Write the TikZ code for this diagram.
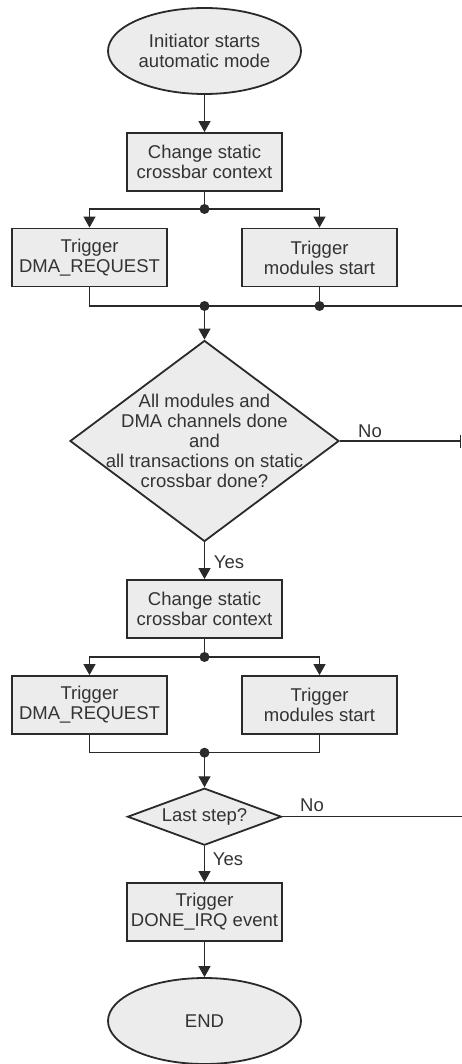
\documentclass[tikz,border=0pt]{standalone}
\usepackage{fontspec}
\setmainfont{Liberation Sans}
\usetikzlibrary{shapes.geometric,arrows.meta}
\definecolor{shapefill}{HTML}{ECECEC}
\definecolor{ink}{HTML}{2A2A2A}
\definecolor{txtcol}{HTML}{333333}
\tikzset{
  base/.style={draw=ink, line width=1.8pt, fill=shapefill, text=txtcol, inner sep=0pt,
    font=\fontsize{18.5pt}{20pt}\selectfont, align=center},
  procbox/.style={base, rectangle, minimum width=155pt, minimum height=58pt},
  termnode/.style={base, ellipse, minimum width=193pt, minimum height=86pt},
  decnode/.style={base, diamond},
  dectext/.style={text=txtcol, inner sep=0pt, font=\fontsize{18.5pt}{20pt}\selectfont, align=center},
  lbl/.style={text=txtcol, inner sep=0pt, font=\fontsize{18.5pt}{20pt}\selectfont},
  conn/.style={draw=ink, line width=1.3pt},
  arr/.style={conn, -{Triangle[length=11pt,width=12pt]}},
  dot/.style={circle, fill=ink, inner sep=0pt, minimum size=10pt},
}
\begin{document}
\begin{tikzpicture}[x=1pt,y=-1pt]
\useasboundingbox (0,0) rectangle (462,1064);

% nodes
\node[termnode] (start) at (204.5,51) {Initiator starts\\automatic mode};
\node[procbox] (ctx1) at (204.5,162) {Change static\\crossbar context};
\node[procbox] (dma1) at (89.5,257.5) {Trigger\\DMA\_REQUEST};
\node[procbox] (mod1) at (319.5,257.5) {Trigger\\modules start};
\node[decnode, minimum width=269pt, minimum height=201pt] (dec1) at (204.5,441) {};
\node[dectext] (dec1t) at (204.5,441) {All modules and\\DMA channels done\\and\\all transactions on static\\crossbar done?};
\node[procbox] (ctx2) at (204.5,609) {Change static\\crossbar context};
\node[procbox] (dma2) at (89.5,705) {Trigger\\DMA\_REQUEST};
\node[procbox] (mod2) at (319.5,705) {Trigger\\modules start};
\node[decnode, minimum width=154pt, minimum height=57pt] (dec2) at (204.5,816.7) {};
\node[dectext] (dec2t) at (204.5,816.7) {Last step?};
\node[procbox] (irq) at (204.5,912) {Trigger\\DONE\_IRQ event};
\node[termnode] (stop) at (204.5,1021) {END};

% junction coordinates
\coordinate (j1) at (204.5,209);
\coordinate (j2) at (204.5,306);
\coordinate (r2) at (462,306);
\coordinate (r3) at (461,441);
\coordinate (j4) at (204.5,657);
\coordinate (j5) at (204.5,752.7);
\coordinate (r6) at (462,816.7);

% connectors
\draw[arr] (start) -- (ctx1);
\draw[conn] (ctx1.south) -- (j1);
\draw[arr] (j1) -| (dma1.north);
\draw[arr] (j1) -| (mod1.north);
\draw[conn] (dma1.south) |- (r2);
\draw[conn] (mod1.south) -- (mod1.south |- r2);
\draw[arr] (j2) -- (dec1.north);
\draw[conn, -{Bar[width=13pt]}] (dec1.east) -- (r3);
\node[lbl] (no1) at (370,431) {No};
\draw[arr] (dec1.south) -- (ctx2.north);
\node[lbl] (yes1) at (229,562) {Yes};
\draw[conn] (ctx2.south) -- (j4);
\draw[arr] (j4) -| (dma2.north);
\draw[arr] (j4) -| (mod2.north);
\draw[conn] (dma2.south) |- (j5) -| (mod2.south);
\draw[arr] (j5) -- (dec2.north);
\draw[conn] (dec2.east) -- (r6);
\node[lbl] (no2) at (312,805) {No};
\draw[arr] (dec2.south) -- (irq.north);
\node[lbl] (yes2) at (228,859) {Yes};
\draw[arr] (irq) -- (stop);

% junction dots
\node[dot] (d1) at (j1) {};
\node[dot] (d2) at (j2) {};
\node[dot] (d3) at (mod1.south |- r2) {};
\node[dot] (d4) at (j4) {};
\node[dot] (d5) at (j5) {};
\end{tikzpicture}
\end{document}
